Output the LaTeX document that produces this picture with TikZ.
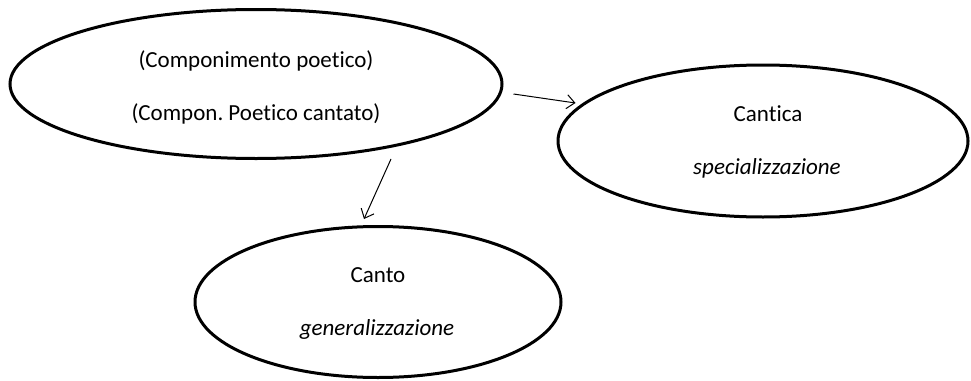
\documentclass[tikz,border=0pt]{standalone}
\usepackage{fontspec}
\setmainfont[Ligatures=NoCommon]{Carlito}
\usetikzlibrary{shapes.geometric,arrows.meta,calc}
\begin{document}
\frenchspacing
\begin{tikzpicture}[x=1pt,y=-1pt,
  oval/.style={draw,ellipse,line width=3pt,inner sep=0pt},
  label/.style={font=\fontsize{23}{27}\selectfont,inner sep=0pt,anchor=center},
  link/.style={-{Straight Barb[length=8pt,width=14pt,line width=1pt]},line width=1pt}]
  \useasboundingbox (0,0) rectangle (971,380);
  % ellipses
  \node[oval,minimum width=492pt,minimum height=149pt] (poem) at (256,84) {};
  \node[oval,minimum width=410pt,minimum height=152pt] (cantica) at (763,141) {};
  \node[oval,minimum width=366pt,minimum height=151pt] (canto) at (378,302) {};
  % texts
  \node[label] (t1) at (256,61) {(Componimento poetico)};
  \node[label] (t2) at (256,114) {(Compon. Poetico cantato)};
  \node[label,anchor=base] (t3) at (768,121) {Cantica};
  \node[label,anchor=base] (t4) at (767,174) {\itshape specializzazione};
  \node[label,anchor=base] (t5) at (378,282) {Canto};
  \node[label,anchor=base] (t6) at (377,335) {\itshape generalizzazione};
  % arrows
  \coordinate (a1) at ($(poem.east)+(10,10)$);
  \coordinate (b1) at ($(cantica.west)+(19,-38)$);
  \coordinate (a2) at ($(poem.south)+(135,-1)$);
  \coordinate (b2) at ($(canto.north)+(-14,-6)$);
  \draw[link] (a1) -- (b1);
  \draw[link] (a2) -- (b2);
\end{tikzpicture}
\end{document}
